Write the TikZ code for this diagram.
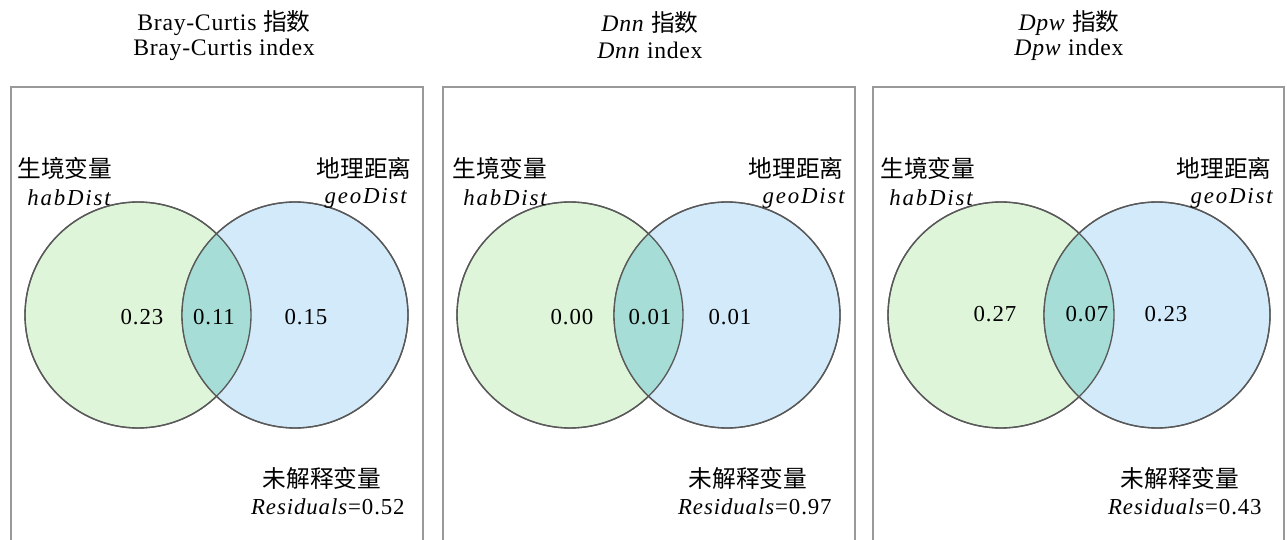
\documentclass[tikz,border=0pt]{standalone}
\usepackage{fontspec}
\usepackage{xcolor}
\setmainfont{Liberation Serif}
\newfontfamily\cjk{Noto Sans CJK SC}
\definecolor{habgreen}{HTML}{DFF5DA}
\definecolor{geoblue}{HTML}{D2EAFA}
\definecolor{overlap}{HTML}{A6DDD6}

\begin{document}
\begin{tikzpicture}[x=0.02cm, y=-0.02cm,
    every node/.style={inner sep=0pt, font=\fontsize{13}{15}\selectfont},
    title/.style={font=\fontsize{13.5}{16}\selectfont\addfontfeature{LetterSpace=3}},
    cn/.style={font=\fontsize{13.5}{16}\selectfont\cjk},
    en/.style={font=\fontsize{13}{15}\selectfont\itshape\addfontfeature{LetterSpace=8}},
    num/.style={font=\fontsize{13}{15}\selectfont\addfontfeature{LetterSpace=4}},
    venn/.style={circle, draw=black!65, line width=0.75pt, minimum size=4.52cm},
    vennline/.style={draw=black!65, line width=0.75pt},
    frame/.style={draw=black!40, line width=0.85pt}]
    \useasboundingbox (0,0) rectangle (1287,540);

    % Bray-Curtis
    \node[title] (t1) at (224,23) {Bray-Curtis {\cjk 指数}};
    \node[title] (s1) at (224,50) {Bray-Curtis index};
    \draw[frame] (11,545) |- (423,87) -- (423,545);
    \node[venn, fill=habgreen] (hab1) at (138,315) {};
    \node[venn, fill=geoblue] (geo1) at (295,315) {};
    \begin{scope}
      \clip (hab1.center) circle[radius=113];
      \fill[overlap] (geo1.center) circle[radius=113];
    \end{scope}
    \draw[vennline] (hab1.center) circle[radius=113] (geo1.center) circle[radius=113];
    \node[cn, anchor=west] (lhab1) at (17,168) {生境变量};
    \node[en, anchor=west] (ehab1) at (27,198) {habDist};
    \node[cn, anchor=east] (lgeo1) at (412,168) {地理距离};
    \node[en, anchor=east] (egeo1) at (407,198) {geoDist};
    \node[num] (nhab1) at (142,317) {0.23};
    \node[num] (nboth1) at (214,317) {0.11};
    \node[num] (ngeo1) at (306,317) {0.15};
    \node[cn] (lres1) at (322,478) {未解释变量};
    \node[num, anchor=east] (res1) at (405,507) {\textit{Residuals}=0.52};

    % Dnn
    \node[title] (t2) at (650,23) {\textit{Dnn} {\cjk 指数}};
    \node[title] (s2) at (650,50) {\textit{Dnn} index};
    \draw[frame] (443,545) |- (855,87) -- (855,545);
    \node[venn, fill=habgreen] (hab2) at (570,315) {};
    \node[venn, fill=geoblue] (geo2) at (727,315) {};
    \begin{scope}
      \clip (hab2.center) circle[radius=113];
      \fill[overlap] (geo2.center) circle[radius=113];
    \end{scope}
    \draw[vennline] (hab2.center) circle[radius=113] (geo2.center) circle[radius=113];
    \node[cn, anchor=west] (lhab2) at (452,168) {生境变量};
    \node[en, anchor=west] (ehab2) at (463,198) {habDist};
    \node[cn, anchor=east] (lgeo2) at (844,168) {地理距离};
    \node[en, anchor=east] (egeo2) at (845,198) {geoDist};
    \node[num] (nhab2) at (572,317) {0.00};
    \node[num] (nboth2) at (650,317) {0.01};
    \node[num] (ngeo2) at (730,317) {0.01};
    \node[cn] (lres2) at (748,478) {未解释变量};
    \node[num, anchor=east] (res2) at (832,507) {\textit{Residuals}=0.97};

    % Dpw
    \node[title] (t3) at (1069,23) {\textit{Dpw} {\cjk 指数}};
    \node[title] (s3) at (1069,50) {\textit{Dpw} index};
    \draw[frame] (873,545) |- (1284,87) -- (1284,545);
    \node[venn, fill=habgreen] (hab3) at (1001,315) {};
    \node[venn, fill=geoblue] (geo3) at (1157,315) {};
    \begin{scope}
      \clip (hab3.center) circle[radius=113];
      \fill[overlap] (geo3.center) circle[radius=113];
    \end{scope}
    \draw[vennline] (hab3.center) circle[radius=113] (geo3.center) circle[radius=113];
    \node[cn, anchor=west] (lhab3) at (880,168) {生境变量};
    \node[en, anchor=west] (ehab3) at (889,198) {habDist};
    \node[cn, anchor=east] (lgeo3) at (1272,168) {地理距离};
    \node[en, anchor=east] (egeo3) at (1273,198) {geoDist};
    \node[num] (nhab3) at (995,314) {0.27};
    \node[num] (nboth3) at (1087,314) {0.07};
    \node[num] (ngeo3) at (1166,314) {0.23};
    \node[cn] (lres3) at (1180,478) {未解释变量};
    \node[num, anchor=east] (res3) at (1262,507) {\textit{Residuals}=0.43};
\end{tikzpicture}
\end{document}
